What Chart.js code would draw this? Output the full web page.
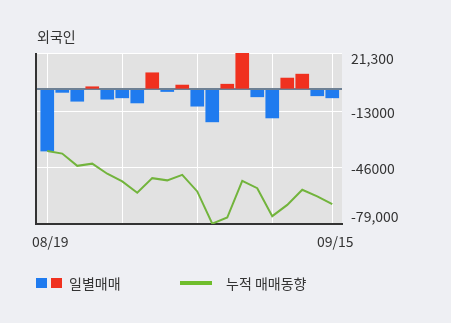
<!DOCTYPE html>
<html>
<head>
<meta charset="utf-8">
<script src="https://cdn.jsdelivr.net/npm/chart.js@4"></script>
<style>
  body { margin: 0; background: #eeeff3; font-family: "Noto Sans CJK KR", sans-serif; color: #333; }
  #wrap { position: relative; width: 451px; height: 323px; }
  #title { position: absolute; left: 37px; top: 27px; font-size: 14px; line-height: 18px; }
  .legend { position: absolute; top: 274px; font-size: 14px; line-height: 18px; display: flex; align-items: center; white-space: nowrap; }
  .sq { width: 11px; height: 10px; display: inline-block; margin-right: 4px; }
  .ln { width: 32px; height: 4px; display: inline-block; background: #6fbd2c; margin-right: 14px; }
</style>
</head>
<body>
<div id="wrap">
  <canvas id="flowChart" width="451" height="323"></canvas>
  <div id="title">외국인</div>
  <div class="legend" style="left:36px">
    <span class="sq" style="background:#1f7bef"></span><span class="sq" style="background:#f0311f;margin-right:7px"></span>일별매매
  </div>
  <div class="legend" style="left:180px">
    <span class="ln"></span>누적 매매동향
  </div>
</div>
<script>
// trading days
const dates = ['08/19', '08/20', '08/23', '08/24', '08/25', '08/26', '08/27', '08/30', '08/31', '09/01',
  '09/02', '09/03', '09/06', '09/07', '09/08', '09/09', '09/10', '09/13', '09/14', '09/15'];

// daily net buy / sell
const daily = [-36200, -1800, -7000, 1500, -5800, -5000, -8000, 9700, -1300, 2500,
  -9900, -19100, 3000, 21300, -4400, -16800, 6600, 8900, -3800, -5000];

// running total
const cumulative = [-36200, -37700, -44900, -43600, -49500, -54000, -60700, -52100, -53400, -50200,
  -59900, -78800, -75200, -53700, -58000, -74400, -67800, -58900, -62800, -67400];

const yTicks = [21300, 0, -13000, -46000, -79000];
const yTickLabels = ['21,300', '', '-13000', '-46000', '-79,000'];
const xGridAt = [0, 5, 10, 15, 19];

const BLUE = '#1f7bef';
const RED = '#f0311f';

const tickFont = { family: '"Noto Sans CJK KR", sans-serif', size: 14 };

// gray plot box, dark left axis line, and right-side value labels kept inside the box
const plotBg = {
  id: 'plotBg',
  beforeDraw(chart) {
    const { ctx, chartArea: a } = chart;
    ctx.save();
    ctx.fillStyle = '#e2e2e2';
    ctx.fillRect(a.left, a.top, a.right - a.left, a.bottom - a.top);
    ctx.restore();
  },
  afterDraw(chart) {
    const { ctx, chartArea: a } = chart;
    const ys = chart.scales.y;
    ctx.save();
    ctx.strokeStyle = '#333';
    ctx.lineWidth = 2;
    ctx.beginPath();
    ctx.moveTo(a.left, a.top);
    ctx.lineTo(a.left, a.bottom + 1);
    ctx.stroke();

    ctx.fillStyle = '#333';
    ctx.font = `${tickFont.size}px ${tickFont.family}`;
    ctx.textAlign = 'left';
    ctx.textBaseline = 'middle';
    yTicks.forEach((v, i) => {
      if (!yTickLabels[i]) return;
      const py = Math.min(Math.max(ys.getPixelForValue(v) + 1, a.top + 6), a.bottom - 7);
      ctx.fillText(yTickLabels[i], a.right + 9, py);
    });
    ctx.restore();
  }
};

new Chart(document.getElementById('flowChart'), {
  type: 'bar',
  data: {
    datasets: [
      {
        type: 'line',
        data: dates.map((d, i) => ({ x: i, y: cumulative[i] })),
        borderColor: '#72b43c',
        borderWidth: 2,
        pointRadius: 0,
        tension: 0,
        order: 0
      },
      {
        type: 'bar',
        data: dates.map((d, i) => ({ x: i, y: daily[i] })),
        backgroundColor: daily.map(v => v >= 0 ? RED : BLUE),
        barThickness: 13,
        order: 1
      }
    ]
  },
  options: {
    responsive: false,
    animation: false,
    layout: { padding: { left: 36, top: 53, right: 0, bottom: 0 } },
    plugins: {
      legend: { display: false },
      tooltip: { enabled: false }
    },
    scales: {
      x: {
        type: 'linear',
        offset: false,
        min: -0.75,
        max: 19.65,
        afterBuildTicks: s => { s.ticks = xGridAt.map(v => ({ value: v })); },
        afterFit: s => { s.height = 99; },
        grid: { color: '#fff', lineWidth: 1, drawTicks: false, offset: false },
        border: { color: '#333', width: 2 },
        ticks: {
          autoSkip: false,
          maxRotation: 0,
          padding: 9,
          labelOffset: 3,
          color: '#333',
          font: tickFont,
          callback: v => (v === 0 || v === dates.length - 1) ? dates[v] : ''
        }
      },
      y: {
        position: 'right',
        min: -79000,
        max: 21300,
        afterBuildTicks: s => { s.ticks = yTicks.map(v => ({ value: v })); },
        afterFit: s => { s.width = 109; },
        grid: {
          drawTicks: false,
          color: c => c.tick && c.tick.value === 0 ? '#6d8094' : '#fff',
          lineWidth: c => c.tick && c.tick.value === 0 ? 2 : 1
        },
        border: { display: false },
        ticks: { display: false }
      }
    }
  },
  plugins: [plotBg]
});
</script>
</body>
</html>
